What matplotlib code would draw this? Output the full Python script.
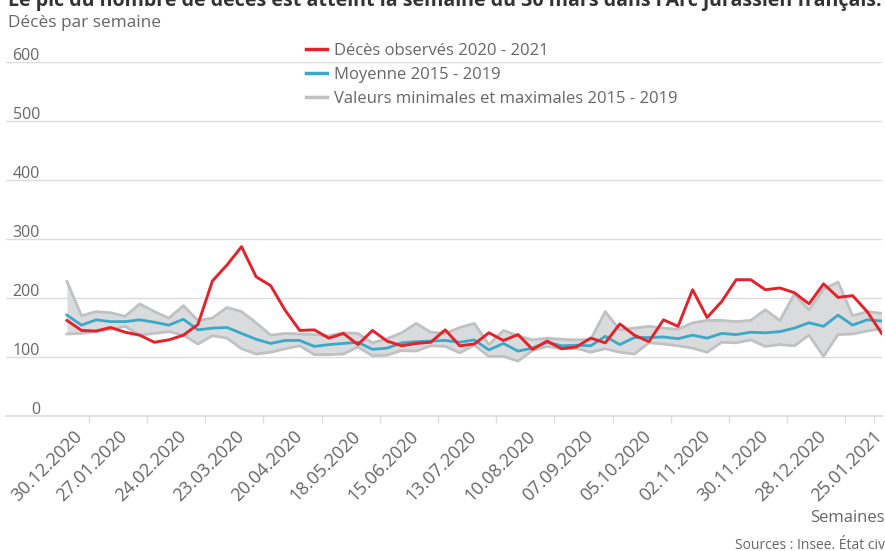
# Décès hebdomadaires dans l'Arc jurassien français, 2020 - 2021
# comparés au minimum / maximum et à la moyenne 2015 - 2019

import numpy as np
import matplotlib
matplotlib.use("Agg")
from matplotlib import pyplot as plt
from matplotlib.lines import Line2D
from matplotlib.transforms import ScaledTranslation

plt.rcParams['font.family'] = ['Open Sans', 'DejaVu Sans']

# one value per week, 30.12.2019 -> 25.01.2021 (57 weeks)
deces_2020_2021 = [162, 145, 144, 150, 142, 137, 125, 129, 137, 155,
                   229, 256, 287, 236, 221, 179, 145, 146, 132, 140,
                   121, 145, 127, 119, 123, 125, 146, 119, 122, 141,
                   128, 138, 113, 127, 114, 117, 132, 124, 156, 137,
                   126, 163, 152, 214, 167, 194, 231, 231, 214, 217,
                   209, 190, 224, 201, 204, 177, 140]
moyenne_2015_2019 = [171, 154, 163, 160, 160, 163, 159, 154, 164, 146,
                     149, 150, 140, 130, 123, 128, 128, 118, 121, 123,
                     125, 113, 115, 124, 126, 127, 128, 125, 129, 112,
                     123, 110, 115, 125, 119, 120, 119, 135, 121, 133,
                     133, 134, 131, 137, 132, 140, 138, 142, 141, 143,
                     149, 158, 152, 171, 154, 163, 161]
max_2015_2019 = [228, 170, 177, 175, 169, 190, 177, 166, 187, 162,
                 166, 184, 177, 158, 137, 140, 139, 138, 136, 141,
                 140, 124, 131, 141, 157, 142, 140, 150, 157, 121,
                 145, 136, 129, 132, 130, 129, 130, 177, 146, 149,
                 152, 149, 147, 158, 162, 162, 160, 162, 180, 162,
                 207, 180, 215, 227, 170, 177, 174]
min_2015_2019 = [139, 140, 143, 147, 152, 137, 140, 143, 137, 122,
                 136, 132, 114, 105, 108, 114, 119, 104, 104, 105,
                 117, 102, 103, 111, 110, 119, 118, 107, 120, 101,
                 101, 93, 111, 118, 114, 115, 108, 114, 108, 105,
                 124, 122, 119, 115, 108, 125, 124, 129, 118, 121,
                 119, 137, 101, 138, 139, 144, 148]

# every 4th week gets a label
date_labels = ["30.12.2020", "27.01.2020", "24.02.2020", "23.03.2020",
               "20.04.2020", "18.05.2020", "15.06.2020", "13.07.2020",
               "10.08.2020", "07.09.2020", "05.10.2020", "02.11.2020",
               "30.11.2020", "28.12.2020", "25.01.2021"]
y_values = [0, 100, 200, 300, 400, 500, 600]

titre = "Le pic du nombre de décès est atteint la semaine du 30 mars dans l'Arc jurassien français."

RED = '#e3222b'
TEAL = '#3aa8c6'
GREY_EDGE = '#c0c1c3'
GREY_FILL = '#dadbdc'
TXT = '#666666'
GRID = '#dcdcdc'

W, H = 885, 551
fig = plt.figure(figsize=(W / 100, H / 100), dpi=100)
ax = fig.add_axes([6 / W, 135 / H, 876 / W, 354 / H])

x = np.arange(len(deces_2020_2021))

ax.fill_between(x, min_2015_2019, max_2015_2019, color=GREY_FILL, lw=0, zorder=1)
ax.plot(x, max_2015_2019, color=GREY_EDGE, lw=2, zorder=2)
ax.plot(x, min_2015_2019, color=GREY_EDGE, lw=2, zorder=2)
ax.plot(x, moyenne_2015_2019, color=TEAL, lw=2, zorder=3)
ax.plot(x, deces_2020_2021, color=RED, lw=2.1, zorder=4)

ax.set_xlim(-4.19, 56.02)
ax.set_ylim(0, 600)

# y grid + labels sitting on top of the lines
ax.set_yticks(y_values)
ax.yaxis.grid(True, color=GRID, lw=1)
ax.set_axisbelow(True)
ax.tick_params(axis='y', length=0, labelleft=False)
lab_off = ScaledTranslation(0, 2 / 100, fig.dpi_scale_trans)
for v in y_values:
    ax.text(0.0388, v, str(v), transform=ax.get_yaxis_transform() + lab_off,
            ha='right', va='baseline', fontsize=11.5, color=TXT)

for s in ['top', 'right', 'left']:
    ax.spines[s].set_visible(False)
ax.spines['bottom'].set_color(GRID)
ax.spines['bottom'].set_linewidth(1.2)

# x labels on every 4th week, tick marks between categories
ax.set_xticks(x[::4])
ax.set_xticklabels(date_labels, rotation=45, ha='right', va='baseline',
                   rotation_mode='anchor', fontsize=13, color=TXT)
ax.tick_params(axis='x', which='major', length=0, pad=15.5)
ax.set_xticks(list(np.arange(1.5, 56, 4)) + [55.5], minor=True)
ax.tick_params(axis='x', which='minor', length=5, width=1, color=GRID)
ticklabs = ax.get_xticklabels()
for k, lab in enumerate(ticklabs):
    dx = 3.4
    if k == 0:
        dx += 13          # first label pushed inside the frame
    elif k == len(ticklabs) - 1:
        dx -= 2
    lab.set_transform(lab.get_transform() + ScaledTranslation(dx / 100, 0, fig.dpi_scale_trans))

handles = [Line2D([], [], color=RED, lw=2.5),
           Line2D([], [], color=TEAL, lw=2.5),
           Line2D([], [], color=GREY_EDGE, lw=2.5)]
labels = ["Décès observés 2020 - 2021", "Moyenne 2015 - 2019",
          "Valeurs minimales et maximales 2015 - 2019"]
leg = fig.legend(handles, labels, loc='upper left', bbox_to_anchor=(306 / W, 1 - 43 / H),
                 frameon=False, fontsize=12, handlelength=1.25, handletextpad=0.4,
                 labelspacing=0.47, borderpad=0, borderaxespad=0)
for t in leg.get_texts():
    t.set_color(TXT)

fig.text(8 / W, 1 - 6 / H, titre, ha='left', va='baseline', fontsize=14.1,
         fontweight='bold', color='#333333')
fig.text(8 / W, 1 - 27 / H, "Décès par semaine", ha='left', va='baseline',
         fontsize=12.4, color=TXT)
fig.text(885 / W, 1 - 522 / H, "Semaines", ha='right', va='baseline',
         fontsize=12, color=TXT)
fig.text(735 / W, 1 - 549 / H, "Sources : Insee. État civil", ha='left', va='baseline',
         fontsize=10, color=TXT)

fig.savefig("out.png", dpi=100)
